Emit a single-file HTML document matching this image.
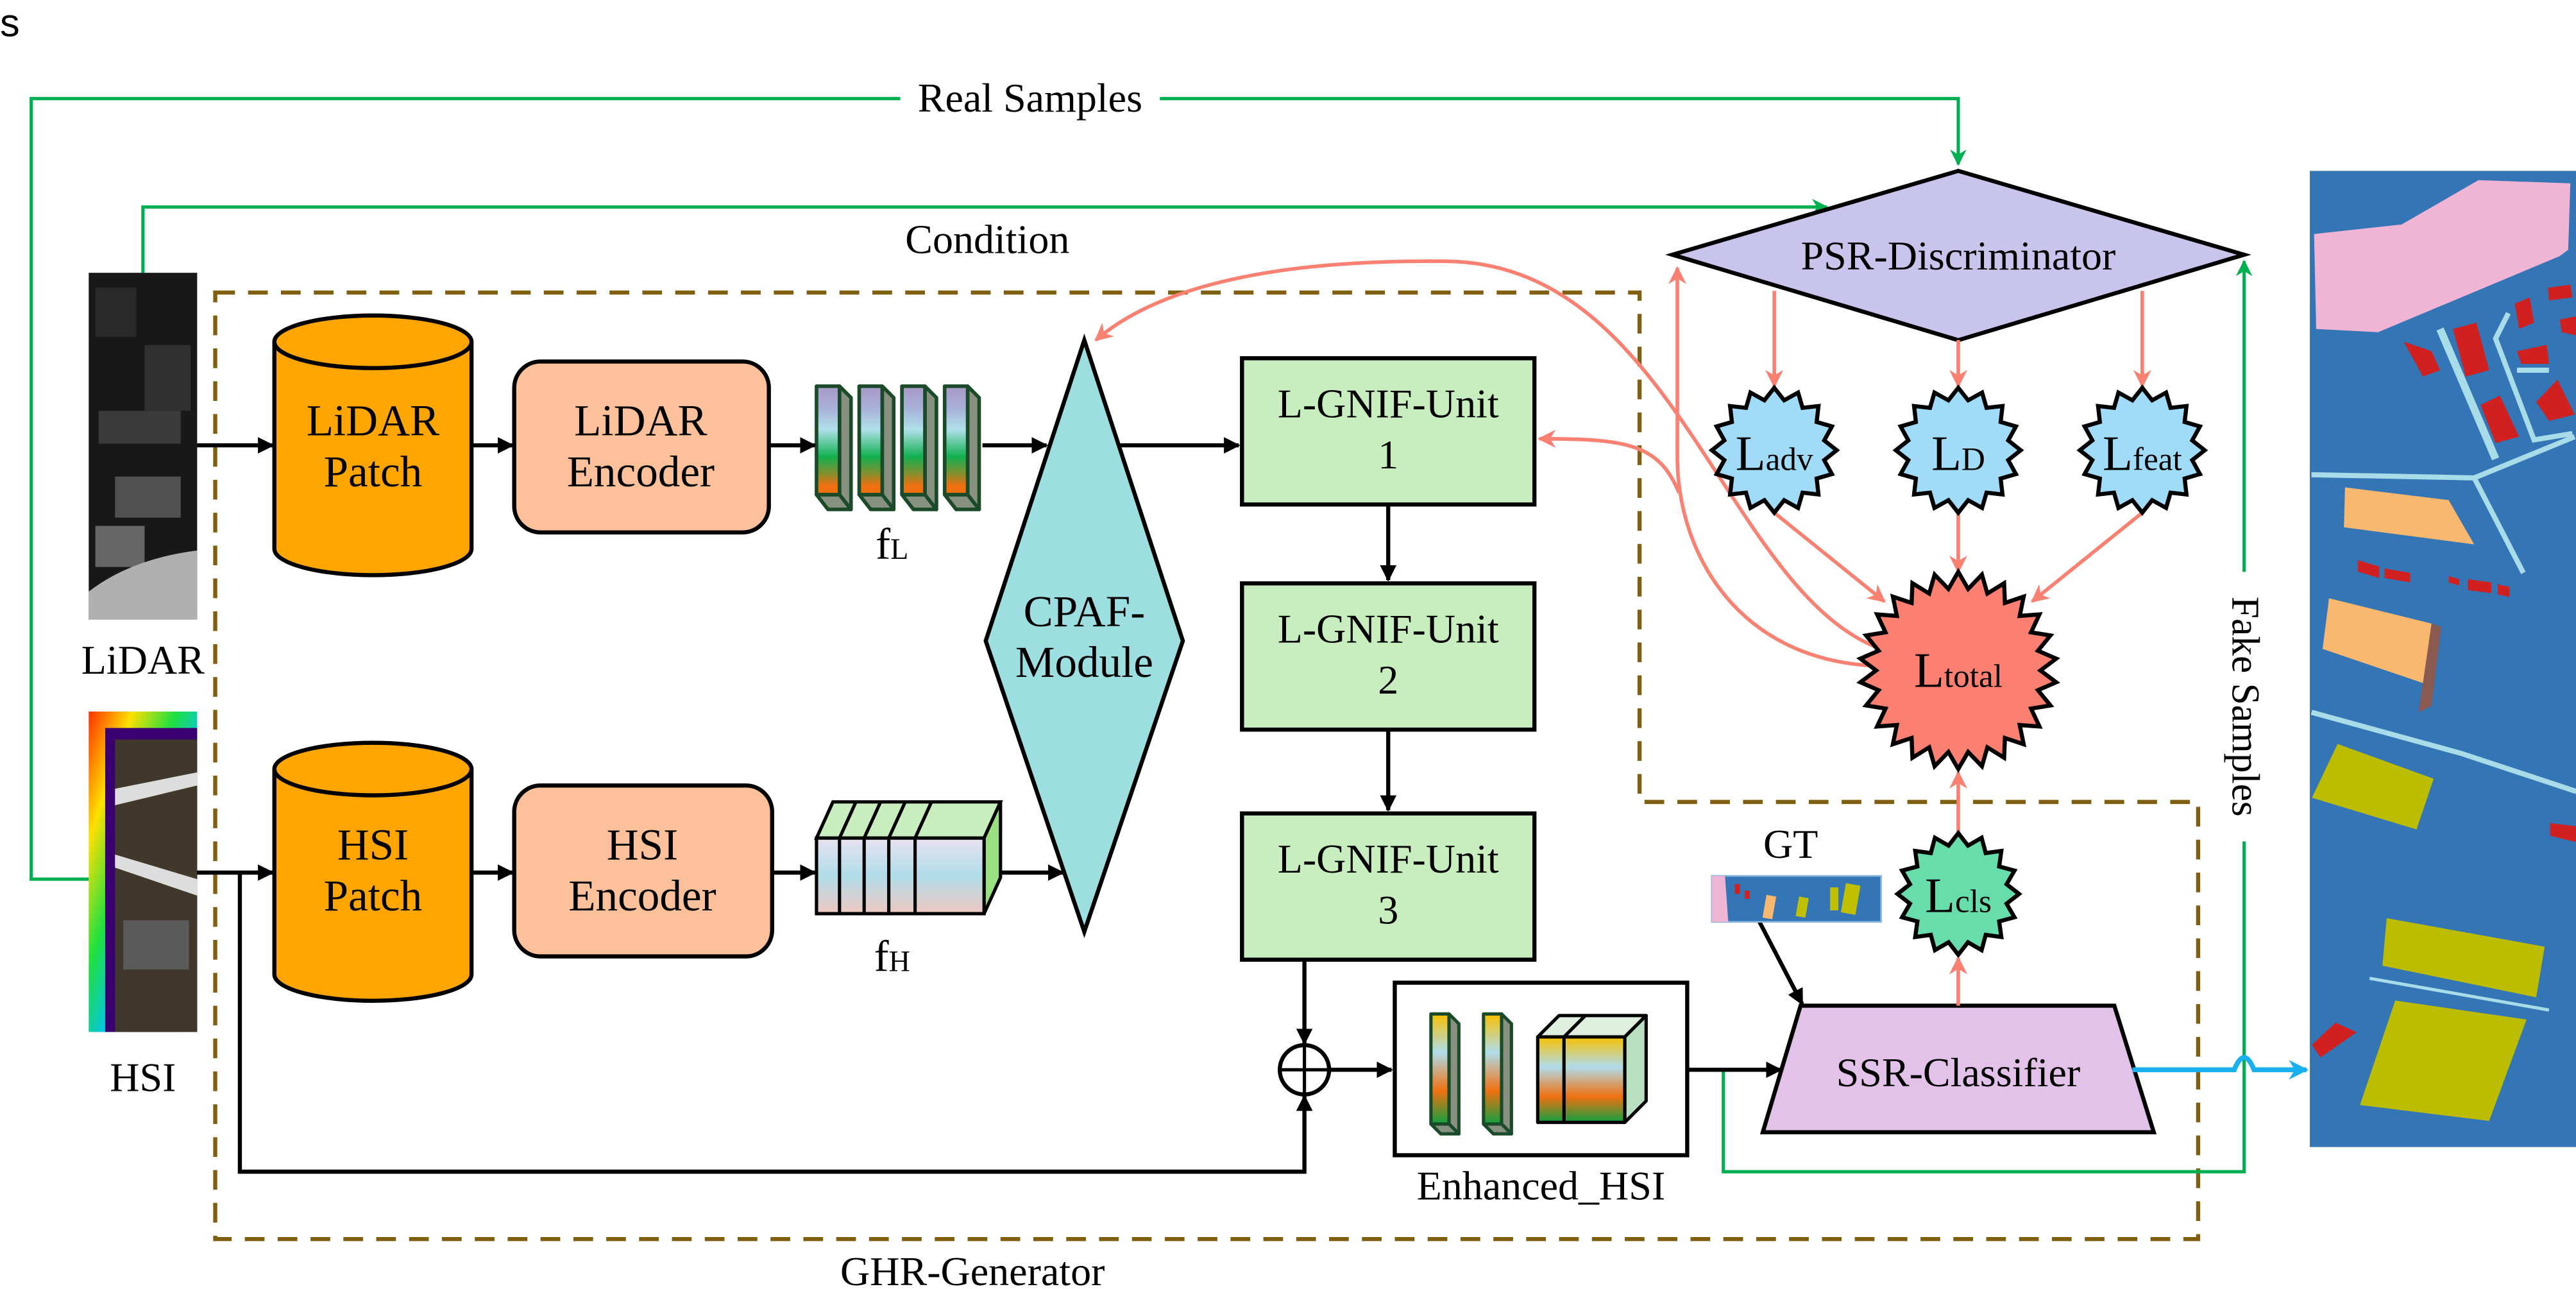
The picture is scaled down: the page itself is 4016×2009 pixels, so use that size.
<!DOCTYPE html>
<html><head><meta charset="utf-8"><style>html,body{margin:0;padding:0;background:#fff;}svg{display:block}</style></head>
<body>
<svg id="s" width="4016" height="2009" viewBox="0 0 1568 784.4" xmlns="http://www.w3.org/2000/svg" font-family="Liberation Serif, serif">
<defs>
<linearGradient id="gL" x1="0" y1="0" x2="0" y2="1">
<stop offset="0" stop-color="#a898c8"/><stop offset="0.2" stop-color="#a8b0d8"/><stop offset="0.4" stop-color="#b0e0ea"/><stop offset="0.65" stop-color="#10b050"/><stop offset="0.8" stop-color="#809030"/><stop offset="0.92" stop-color="#f07010"/></linearGradient>
<linearGradient id="gH" x1="0" y1="0" x2="0" y2="1">
<stop offset="0" stop-color="#e8e2f0"/><stop offset="0.5" stop-color="#b0dcea"/><stop offset="1" stop-color="#f0c8c0"/></linearGradient>
<linearGradient id="gE" x1="0" y1="0" x2="0" y2="1">
<stop offset="0" stop-color="#f8c000"/><stop offset="0.35" stop-color="#b0dcea"/><stop offset="0.7" stop-color="#f07010"/><stop offset="1" stop-color="#10a040"/></linearGradient>
<linearGradient id="gS" x1="0" y1="0" x2="1" y2="1">
<stop offset="0" stop-color="#ff3000"/><stop offset="0.2" stop-color="#ffe000"/><stop offset="0.4" stop-color="#20e040"/><stop offset="0.6" stop-color="#00c0ff"/><stop offset="0.8" stop-color="#3030ff"/><stop offset="1" stop-color="#6000a0"/></linearGradient>
<marker id="ak" viewBox="0 0 10 10" refX="9" refY="5" markerWidth="4" markerHeight="4" orient="auto"><path d="M0,0 L10,5 L0,10 z" fill="#000"/></marker>
<marker id="ag" viewBox="0 0 10 10" refX="9" refY="5" markerWidth="5" markerHeight="5" orient="auto"><path d="M0,0 L10,5 L0,10 L3,5 z" fill="#00b050"/></marker>
<marker id="as" viewBox="0 0 10 10" refX="9" refY="5" markerWidth="5" markerHeight="5" orient="auto"><path d="M0,0 L10,5 L0,10 L3,5 z" fill="#fa8072"/></marker>
<marker id="ab" viewBox="0 0 10 10" refX="9" refY="5" markerWidth="4" markerHeight="4" orient="auto"><path d="M0,0 L10,5 L0,10 L3,5 z" fill="#1ab0ef"/></marker>
</defs>

<text x="0" y="22" font-family="Liberation Sans, sans-serif" font-size="24">s</text>

<path d="M131,178 L998,178 L998,488 L1338,488 L1338,754 L131,754 Z" fill="none" stroke="#7f6010" stroke-width="2.5" stroke-dasharray="12,8"/>

<path d="M54,535 L19,535 L19,60 L548,60 M706,60 L1192,60 L1192,100" fill="none" stroke="#00b050" stroke-width="2" marker-end="url(#ag)"/>
<text x="627" y="68" font-size="25" text-anchor="middle">Real Samples</text>
<path d="M87,166 L87,126 L1112,126" fill="none" stroke="#00b050" stroke-width="2" marker-end="url(#ag)"/>
<text x="601" y="154" font-size="25" text-anchor="middle">Condition</text>
<path d="M1049,651 L1049,713 L1366,713 L1366,512 M1366,348 L1366,159" fill="none" stroke="#00b050" stroke-width="2" marker-end="url(#ag)"/>
<text transform="translate(1359,430) rotate(90)" font-size="24" text-anchor="middle">Fake Samples</text>

<rect x="54" y="166" width="66" height="211" fill="#181818"/>
<rect x="58" y="175" width="25" height="30" fill="#2a2a2a"/>
<rect x="88" y="210" width="28" height="40" fill="#303030"/>
<rect x="60" y="250" width="50" height="20" fill="#3a3a3a"/>
<rect x="70" y="290" width="40" height="25" fill="#505050"/>
<rect x="58" y="320" width="30" height="25" fill="#666"/>
<path d="M54,360 Q80,340 120,335 L120,377 L54,377 Z" fill="#b0b0b0"/>
<text x="87" y="410" font-size="25" text-anchor="middle">LiDAR</text>

<rect x="54" y="433" width="66" height="195" fill="url(#gS)"/>
<rect x="64" y="443" width="56" height="185" fill="#3a0070"/>
<rect x="70" y="450" width="50" height="178" fill="#40382a"/>
<path d="M70,480 L120,470 L120,478 L70,490 Z M70,520 L120,535 L120,545 L70,528 Z" fill="#ddd"/>
<rect x="75" y="560" width="40" height="30" fill="#5a5a5a"/>
<text x="87" y="664" font-size="25" text-anchor="middle">HSI</text>

<g stroke="#000" stroke-width="2.5">
<path d="M167,208 L167,334 A60,16 0 0 0 287,334 L287,208" fill="#ffa500"/>
<ellipse cx="227" cy="208" rx="60" ry="16" fill="#ffa500"/>
<path d="M167,468 L167,593 A60,16 0 0 0 287,593 L287,468" fill="#ffa500"/>
<ellipse cx="227" cy="468" rx="60" ry="16" fill="#ffa500"/>
<rect x="313" y="220" width="155" height="104" rx="16" fill="#fcc09a"/>
<rect x="313" y="478" width="157" height="104" rx="16" fill="#fcc09a"/>
<polygon points="660,207 720,390 660,567 600,390" fill="#9ddfe0"/>
<rect x="756" y="218" width="178" height="89" fill="#c8eec0"/>
<rect x="756" y="355" width="178" height="89" fill="#c8eec0"/>
<rect x="756" y="495" width="178" height="89" fill="#c8eec0"/>
<rect x="849" y="598" width="178" height="105" fill="#fff"/>
<polygon points="1096,612 1287,612 1311,689 1073,689" fill="#e2c2e8"/>
<polygon points="1192,104 1366,155 1192,207 1018,155" fill="#c8c4ec"/>
<circle cx="794" cy="651" r="15" fill="#fff"/>
</g>
<path d="M779,651 L809,651 M794,636 L794,666" stroke="#000" stroke-width="2"/>
<g font-size="27" text-anchor="middle">
<text x="227" y="265">LiDAR</text><text x="227" y="296">Patch</text>
<text x="390" y="265">LiDAR</text><text x="390" y="296">Encoder</text>
<text x="227" y="523">HSI</text><text x="227" y="554">Patch</text>
<text x="391" y="523">HSI</text><text x="391" y="554">Encoder</text>
<text x="660" y="381">CPAF-</text><text x="660" y="412">Module</text>
<text x="845" y="254" font-size="25">L-GNIF-Unit</text><text x="845" y="285" font-size="25">1</text>
<text x="845" y="391" font-size="25">L-GNIF-Unit</text><text x="845" y="422" font-size="25">2</text>
<text x="845" y="531" font-size="25">L-GNIF-Unit</text><text x="845" y="562" font-size="25">3</text>
<text x="1192" y="661" font-size="25">SSR-Classifier</text>
<text x="1192" y="164" font-size="25">PSR-Discriminator</text>
<text x="938" y="730" font-size="25">Enhanced_HSI</text>
<text x="1090" y="522" font-size="25">GT</text>
<text x="592" y="782" font-size="25">GHR-Generator</text>
<text x="543" y="340">f<tspan font-size="18">L</tspan></text>
<text x="543" y="591">f<tspan font-size="18">H</tspan></text>
</g>

<!-- fL slabs -->
<g stroke="#1a4a28" stroke-width="2.2" stroke-linejoin="round">
<polygon points="511,235 518,242 518,310 511,303" fill="#889080"/><polygon points="497,301 511,301 518,310 504,310" fill="#889080"/><rect x="497" y="235" width="14" height="66" fill="url(#gL)"/>
<polygon points="537,235 544,242 544,310 537,303" fill="#889080"/><polygon points="523,301 537,301 544,310 530,310" fill="#889080"/><rect x="523" y="235" width="14" height="66" fill="url(#gL)"/>
<polygon points="563,235 570,242 570,310 563,303" fill="#889080"/><polygon points="549,301 563,301 570,310 556,310" fill="#889080"/><rect x="549" y="235" width="14" height="66" fill="url(#gL)"/>
<polygon points="589,235 596,242 596,310 589,303" fill="#889080"/><polygon points="575,301 589,301 596,310 582,310" fill="#889080"/><rect x="575" y="235" width="14" height="66" fill="url(#gL)"/>
</g>
<g stroke="#000" stroke-width="2">
<polygon points="497,510 507,488 609,488 599,510" fill="#c8eec0"/>
<polygon points="599,510 609,488 609,534 599,556" fill="#98e080"/>
<rect x="497" y="510" width="102" height="46" fill="url(#gH)"/>
<path d="M511,510 L511,556 M526,510 L526,556 M541,510 L541,556 M557,510 L557,556 M511,510 L521,488 M526,510 L536,488 M541,510 L551,488 M557,510 L567,488" fill="none"/>
</g>
<!-- enhanced contents -->
<g stroke="#1a4a28" stroke-width="2" stroke-linejoin="round">
<polygon points="882,617 888,623 888,690 882,684" fill="#889080"/><polygon points="871,684 882,684 888,690 877,690" fill="#889080"/><rect x="871" y="617" width="11" height="67" fill="url(#gE)"/>
<polygon points="914,617 920,623 920,690 914,684" fill="#889080"/><polygon points="903,684 914,684 920,690 909,690" fill="#889080"/><rect x="903" y="617" width="11" height="67" fill="url(#gE)"/>
</g>
<g stroke="#000" stroke-width="2" stroke-linejoin="round">
<polygon points="936,631 949,618 1002,618 989,631" fill="#e0f0e0"/>
<polygon points="989,631 1002,618 1002,670 989,683" fill="#b8e0c0"/>
<rect x="936" y="631" width="53" height="52" fill="url(#gE)"/>
<path d="M952,631 L952,683 M952,631 L965,618" fill="none"/>
</g>

<g stroke="#000" stroke-width="2.5" fill="none" marker-end="url(#ak)">
<path d="M120,271 L166,271"/><path d="M287,271 L312,271"/><path d="M468,271 L496,271"/><path d="M598,271 L637,271"/><path d="M682,271 L754,271"/>
<path d="M120,531 L166,531"/><path d="M287,531 L312,531"/><path d="M470,531 L496,531"/><path d="M609,531 L647,531"/>
<path d="M845,307 L845,353"/><path d="M845,444 L845,493"/>
<path d="M794,584 L794,635"/>
<path d="M146,531 L146,713 L794,713 L794,667"/>
<path d="M809,651 L847,651"/>
<path d="M1027,651 L1084,651"/>
<path d="M1071,561 L1097,611"/>
</g>
<rect x="1042" y="533" width="103" height="28" fill="#3375b5" stroke="#8ab8e0"/>
<path d="M1042,533 L1050,533 L1052,561 L1042,561 Z" fill="#f0b4d4"/>
<rect x="1074" y="545" width="6" height="14" fill="#f8b870" transform="rotate(10 1077 552)"/>
<rect x="1094" y="546" width="6" height="12" fill="#c0c000" transform="rotate(10 1097 552)"/>
<rect x="1122" y="538" width="9" height="18" fill="#c0c000" transform="rotate(10 1126 547)"/>
<rect x="1114" y="540" width="5" height="14" fill="#c0c000"/>
<rect x="1056" y="538" width="3" height="6" fill="#d02020"/><rect x="1062" y="542" width="3" height="5" fill="#d02020"/>

<path d="M1298,651 L1360,651 Q1366,636 1372,651 L1404,651" stroke="#1ab0ef" stroke-width="3" fill="none" marker-end="url(#ab)"/>

<g stroke="#fa8072" stroke-width="2.2" fill="none" marker-end="url(#as)">
<path d="M1080,177 L1080,235"/><path d="M1192,207 L1192,235"/><path d="M1304,177 L1304,235"/>
<path d="M1080,312 L1147,366"/><path d="M1192,312 L1192,348"/><path d="M1304,312 L1237,366"/>
<path d="M1192,612 L1192,583"/><path d="M1192,507 L1192,470"/>
<path d="M1138,405 C1060,400 1022,340 1021,280 L1021,163"/>
<path d="M1022,300 C1010,270 990,267 937,267"/>
<path d="M1145,395 C1050,360 1020,160 880,159 C790,158 710,170 667,207"/>
</g>

<g id="stars" stroke="#000" stroke-width="2.5"></g>
<g font-size="30" text-anchor="middle">
<text x="1080" y="286">L<tspan font-size="20">adv</tspan></text>
<text x="1192" y="286">L<tspan font-size="20">D</tspan></text>
<text x="1304" y="286">L<tspan font-size="20">feat</tspan></text>
<text x="1192" y="418">L<tspan font-size="20">total</tspan></text>
<text x="1192" y="555">L<tspan font-size="20">cls</tspan></text>
</g>

<rect x="1406" y="104" width="162" height="594" fill="#3375b5"/>
<g transform="translate(1407,105) scale(0.130,0.3855) translate(-38,-18)">
<polygon points="50,115 460,100 820,30 1250,35 1240,140 1200,150 350,270 60,265" fill="#f0b4d4"/>
<g fill="none" stroke="#a8dce8" stroke-width="8">
<polyline points="38,495 800,500 1270,435" vector-effect="non-scaling-stroke"/>
<polyline points="800,500 1030,650" vector-effect="non-scaling-stroke"/>
<polyline points="640,265 900,470" vector-effect="non-scaling-stroke" stroke-width="12"/>
<polyline points="960,240 900,280 1080,440 1260,430" vector-effect="non-scaling-stroke"/>
<polyline points="1000,330 1150,330" vector-effect="non-scaling-stroke"/>
<polyline points="38,870 740,935 1278,995" vector-effect="non-scaling-stroke"/>
<polyline points="310,1290 1150,1340" vector-effect="non-scaling-stroke" stroke-width="5"/>
</g>
<g fill="#d02020">
<polygon points="470,285 600,300 640,330 560,340"/>
<polygon points="700,265 810,255 870,330 760,340"/>
<polygon points="830,385 920,370 1010,435 900,445"/>
<polygon points="990,225 1060,215 1080,255 1010,265"/>
<polygon points="1000,300 1140,290 1150,320 1020,320"/>
<polygon points="1090,380 1190,345 1270,400 1150,410"/>
<polygon points="1145,200 1250,195 1260,215 1150,220"/>
<polygon points="1200,250 1278,245 1278,275 1210,270"/>
<polygon points="255,630 355,640 355,658 255,648"/>
<polygon points="380,643 500,650 500,665 380,658"/>
<polygon points="680,655 730,660 730,670 680,665"/>
<polygon points="770,660 880,665 880,682 770,677"/>
<polygon points="910,668 965,672 965,688 910,684"/>
<polygon points="1155,1045 1278,1050 1278,1075 1155,1065"/>
<polygon points="40,1395 150,1360 250,1375 80,1415"/>
</g>
<polygon points="195,515 680,535 800,605 190,578" fill="#f8b870"/>
<polygon points="120,690 600,730 570,825 90,770" fill="#f8b870"/>
<polygon points="600,730 645,735 600,860 540,870" fill="#8a5a50"/>
<polygon points="160,920 610,975 530,1055 40,1005" fill="#bcbc00"/>
<polygon points="390,1195 1130,1240 1090,1320 370,1270" fill="#bcbc00"/>
<polygon points="430,1325 1045,1355 870,1515 265,1490" fill="#bcbc00"/>
</g>

<script>
function star(cx,cy,ro,ri,n,fill){var p=[];for(var i=0;i<2*n;i++){var a=Math.PI*i/n-Math.PI/2;var r=i%2?ri:ro;p.push((cx+r*Math.cos(a)).toFixed(1)+","+(cy+r*Math.sin(a)).toFixed(1));}
var e=document.createElementNS("http://www.w3.org/2000/svg","polygon");e.setAttribute("points",p.join(" "));e.setAttribute("fill",fill);document.getElementById("stars").appendChild(e);}
star(1080,274,38,31,16,"#a0dcf8");star(1192,274,38,31,16,"#a0dcf8");star(1304,274,38,31,16,"#a0dcf8");
star(1192,408,60,50,26,"#fb8072");star(1192,544,37,30,16,"#66ddaa");
</script>
</svg>
</body></html>
